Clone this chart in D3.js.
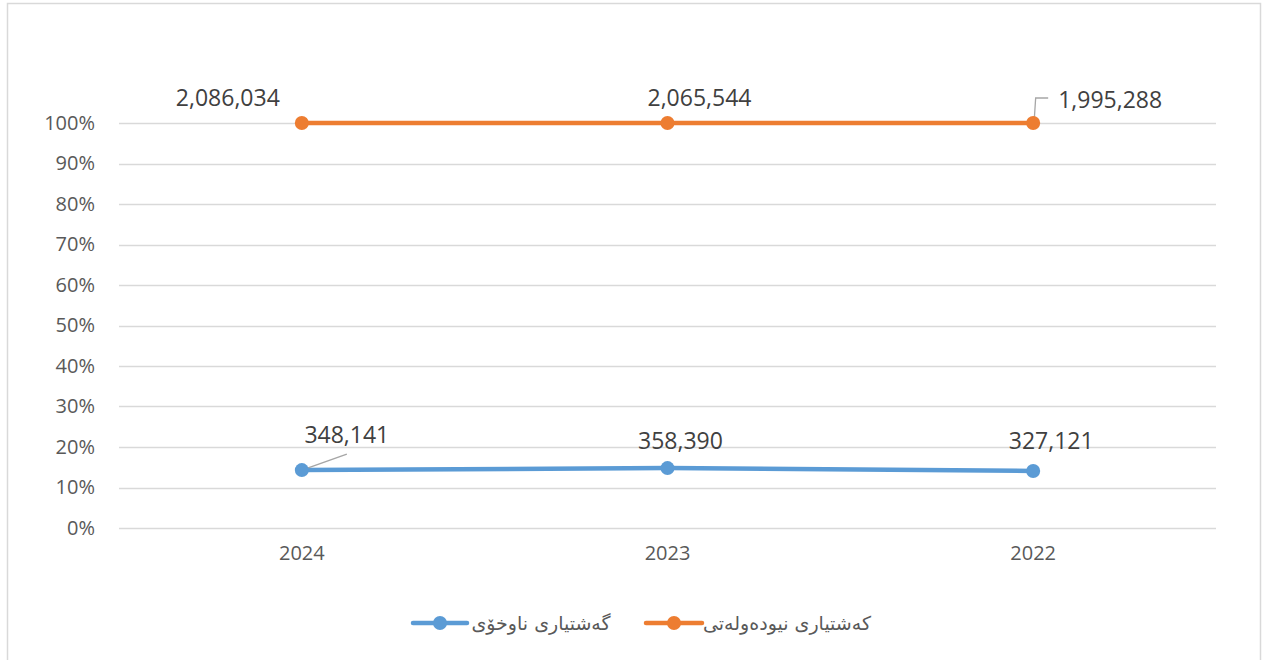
<!DOCTYPE html>
<html><head><meta charset="utf-8">
<script src="https://cdn.jsdelivr.net/npm/d3@7"></script>
<style>html,body{margin:0;padding:0;background:#fff;}svg{display:block;}</style>
</head><body>
<svg id="c" width="1265" height="660"></svg>
<script>
const years = ["2024", "2023", "2022"];
const domestic = [348141, 358390, 327121];
const international = [2086034, 2065544, 1995288];
const seriesNames = ["گەشتیاری ناوخۆی", "کەشتیاری نیودەولەتی"];
const yTicks = [0, 0.1, 0.2, 0.3, 0.4, 0.5, 0.6, 0.7, 0.8, 0.9, 1.0];

const colors = ["#5b9bd5", "#ed7d31"];
const svg = d3.select("#c");
const m = {left: 119, right: 1216, top: 123, bottom: 528};

svg.append("rect").attr("x", 7.5).attr("y", 3.5).attr("width", 1253).attr("height", 670)
  .attr("fill", "#fff").attr("stroke", "#d9d9d9").attr("stroke-width", 1.5);

const rows = years.map((y, i) => ({year: y, dom: domestic[i], intl: international[i]}));
const stack = d3.stack().keys(["dom", "intl"]).offset(d3.stackOffsetExpand);
const stacked = stack(rows);

const x = d3.scaleBand().domain(years).range([m.left, m.right]);
const y = d3.scaleLinear().domain([0, 1]).range([m.bottom, m.top]);

// gridlines
svg.append("g").selectAll("line").data(yTicks).join("line")
  .attr("x1", m.left).attr("x2", m.right)
  .attr("y1", d => Math.round(y(d)) + 0.5).attr("y2", d => Math.round(y(d)) + 0.5)
  .attr("stroke", "#d9d9d9").attr("stroke-width", 1.3);

// y axis labels
const yAxis = d3.axisLeft(y).tickValues(yTicks).tickFormat(d3.format(".0%")).tickSize(0).tickPadding(0);
const ya = svg.append("g").attr("transform", `translate(95,0)`).call(yAxis);
ya.select(".domain").remove();
ya.selectAll("text").attr("font-family", "'Open Sans', sans-serif").attr("font-size", 20).attr("fill", "#595959");

// x axis labels
const xAxis = d3.axisBottom(x).tickSize(0).tickPadding(0);
const xa = svg.append("g").attr("transform", `translate(0,${m.bottom + 18})`).call(xAxis);
xa.select(".domain").remove();
xa.selectAll("text").attr("font-family", "'Open Sans', sans-serif").attr("font-size", 20).attr("fill", "#595959");

const cx = d => x(d.data.year) + x.bandwidth() / 2;
const line = d3.line().x(cx).y(d => y(d[1]));

stacked.forEach((s, i) => {
  svg.append("path").datum(s).attr("d", line).attr("fill", "none")
    .attr("stroke", colors[i]).attr("stroke-width", 4.5).attr("stroke-linecap", "round");
});

// leader lines (drawn under markers)
const pDom0 = stacked[0][0], pInt2 = stacked[1][2];
svg.append("polyline")
  .attr("points", `${cx(pDom0)},${y(pDom0[1])} ${cx(pDom0) + 45},${y(pDom0[1]) - 16}`)
  .attr("fill", "none").attr("stroke", "#a6a6a6").attr("stroke-width", 1.3);
svg.append("polyline")
  .attr("points", `${cx(pInt2) + 1},${y(pInt2[1]) - 2} ${cx(pInt2) + 2.5},${y(pInt2[1]) - 25} ${cx(pInt2) + 15},${y(pInt2[1]) - 25}`)
  .attr("fill", "none").attr("stroke", "#a6a6a6").attr("stroke-width", 1.3);

stacked.forEach((s, i) => {
  svg.append("g").selectAll("circle").data(s).join("circle")
    .attr("cx", cx).attr("cy", d => y(d[1])).attr("r", 7).attr("fill", colors[i]);
});

// data labels
const labelOffsets = [
  [[45, -27], [13, -19], [18, -22]],
  [[-74, -17], [32, -17], [77, -15]]
];
const raw = [domestic, international];
const fmt = d3.format(",");
stacked.forEach((s, i) => {
  svg.append("g").selectAll("text").data(s).join("text")
    .attr("x", (d, j) => cx(d) + labelOffsets[i][j][0])
    .attr("y", (d, j) => y(d[1]) + labelOffsets[i][j][1])
    .attr("text-anchor", "middle")
    .attr("font-family", "'Open Sans', sans-serif").attr("font-size", 23)
    .attr("fill", "#404040")
    .text((d, j) => fmt(raw[i][j]));
});

// legend
const legendItems = [
  {x0: 413, x1: 467, tx: 541},
  {x0: 646, x1: 702, tx: 787}
];
legendItems.forEach((li, i) => {
  const g = svg.append("g");
  g.append("line").attr("x1", li.x0).attr("x2", li.x1).attr("y1", 623).attr("y2", 623)
    .attr("stroke", colors[i]).attr("stroke-width", 4.5).attr("stroke-linecap", "round");
  g.append("circle").attr("cx", (li.x0 + li.x1) / 2).attr("cy", 623).attr("r", 7).attr("fill", colors[i]);
  g.append("text").attr("x", li.tx).attr("y", 630).attr("text-anchor", "middle")
    .attr("font-family", "'DejaVu Sans', sans-serif").attr("font-size", 19).attr("fill", "#595959")
    .text(seriesNames[i]);
});
</script>
</body></html>
